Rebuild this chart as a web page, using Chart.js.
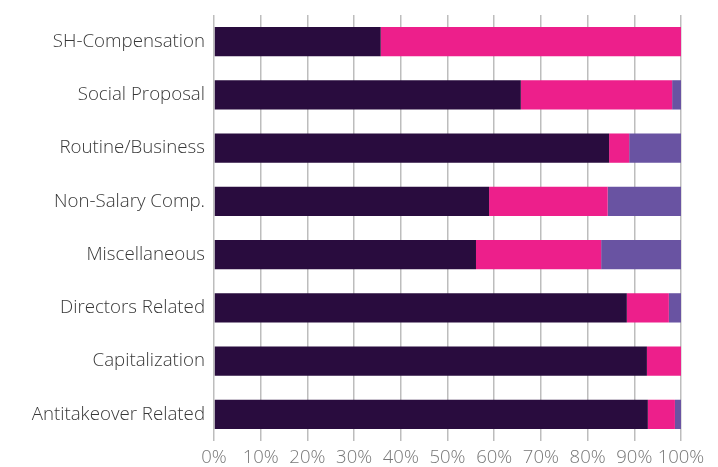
<!DOCTYPE html>
<html>
<head>
<meta charset="utf-8">
<script src="https://cdn.jsdelivr.net/npm/chart.js@4/dist/chart.umd.min.js"></script>
<style>
  html, body { margin: 0; padding: 0; background: #ffffff; }
  #wrap { width: 718px; height: 467px; }
</style>
</head>
<body>
<div id="wrap"><canvas id="proposalChart" width="718" height="467"></canvas></div>
<script>
// Categories, top to bottom
const categories = [
    'SH-Compensation',
    'Social Proposal',
    'Routine/Business',
    'Non-Salary Comp.',
    'Miscellaneous',
    'Directors Related',
    'Capitalization',
    'Antitakeover Related'
];

// Share of votes (%) per series
const darkValues   = [35.7, 65.7, 84.6, 58.9, 56.1, 88.4, 92.7, 92.9];
const pinkValues   = [64.3, 32.4, 4.3, 25.4, 26.8, 9.0, 7.3, 5.8];
const purpleValues = [0, 1.9, 11.1, 15.7, 17.1, 2.6, 0, 1.3];

const xTicks = [0, 10, 20, 30, 40, 50, 60, 70, 80, 90, 100];

const ctx = document.getElementById('proposalChart').getContext('2d');

const proposalChart = new Chart(ctx, {
    type: 'bar',
    data: {
        labels: categories,
        datasets: [
            { label: 'For', data: darkValues, backgroundColor: '#290c3e' },
            { label: 'Against', data: pinkValues, backgroundColor: '#ed1f8b' },
            { label: 'Abstain', data: purpleValues, backgroundColor: '#6953a2' }
        ]
    },
    options: {
        indexAxis: 'y',
        responsive: false,
        animation: false,
        layout: {
            padding: { top: 15, right: 37, left: 0, bottom: 0 }
        },
        datasets: {
            bar: {
                categoryPercentage: 0.55,
                barPercentage: 1.0
            }
        },
        plugins: {
            legend: { display: false },
            tooltip: { enabled: false }
        },
        scales: {
            x: {
                stacked: true,
                min: 0,
                max: 100,
                afterBuildTicks: (scale) => {
                    scale.ticks = xTicks.map(v => ({ value: v }));
                },
                afterFit: (scale) => { scale.height = 26; },
                grid: {
                    color: '#bdbdbd',
                    lineWidth: 1.5,
                    drawTicks: false
                },
                border: { display: false },
                ticks: {
                    color: '#777777',
                    padding: 6,
                    maxRotation: 0,
                    minRotation: 0,
                    autoSkip: false,
                    font: { family: 'Open Sans', size: 18.5, weight: 300 },
                    callback: (v) => v + '%'
                }
            },
            y: {
                stacked: true,
                afterFit: (scale) => {
                    scale.width = 214;
                    scale.paddingTop = 0;
                    scale.paddingBottom = 0;
                },
                grid: { display: false, drawTicks: false },
                border: { display: false },
                ticks: {
                    color: '#383838',
                    padding: 9,
                    font: { family: 'Open Sans', size: 18.7, weight: 300 }
                }
            }
        }
    }
});
</script>
</body>
</html>
